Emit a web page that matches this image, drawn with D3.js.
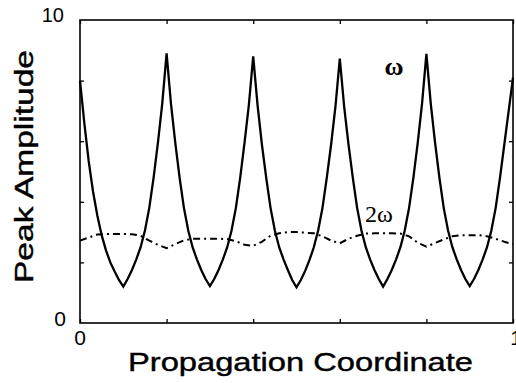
<!DOCTYPE html>
<html>
<head>
<meta charset="utf-8">
<title></title>
<style>
body { margin: 0; background: #fff; }
svg { display: block; }
.frame { fill: none; stroke: #000; stroke-width: 1.6px; }
.tick line { stroke: #000; stroke-width: 1.3px; }
path.omega { fill: none; stroke: #000; stroke-width: 2.3px; stroke-linejoin: miter; }
path.omega2 { fill: none; stroke: #000; stroke-width: 2px; stroke-dasharray: 7,4,2,4; }
text.tl { font-family: "Liberation Sans", Arial, sans-serif; font-size: 21px; fill: #000; }
text.title { font-family: "Liberation Sans", Arial, sans-serif; font-size: 25px; fill: #000; stroke: #000; stroke-width: 0.4px; }
text.lab { font-family: "Liberation Serif", "Times New Roman", serif; fill: #000; }
</style>
</head>
<body>
<script src="https://cdn.jsdelivr.net/npm/d3@7"></script>
<script>

// propagation coordinate grid for the omega curve (step 0.01)
var coordOmega = d3.range(0, 101).map(function(i) { return i / 100; });
var peakOmega = [
  8.0, 6.6, 5.35, 4.35, 3.55, 2.9, 2.4, 2.0, 1.7, 1.42,
  1.2, 1.45, 1.75, 2.1, 2.5, 3.05, 3.8, 4.8, 5.95, 7.25,
  8.9, 7.25, 5.95, 4.8, 3.8, 3.05, 2.5, 2.1, 1.75, 1.45,
  1.22, 1.45, 1.75, 2.1, 2.5, 3.05, 3.8, 4.8, 5.95, 7.2,
  8.8, 7.2, 5.9, 4.8, 3.8, 3.05, 2.5, 2.1, 1.75, 1.42,
  1.18, 1.42, 1.72, 2.08, 2.5, 3.05, 3.8, 4.8, 5.9, 7.15,
  8.73, 7.15, 5.9, 4.8, 3.8, 3.05, 2.5, 2.1, 1.75, 1.45,
  1.2, 1.45, 1.75, 2.1, 2.5, 3.05, 3.8, 4.8, 5.95, 7.25,
  8.88, 7.25, 5.95, 4.8, 3.8, 3.05, 2.5, 2.1, 1.75, 1.45,
  1.22, 1.45, 1.75, 2.1, 2.5, 3.05, 3.8, 4.8, 5.9, 7.0,
  8.1
];

// second harmonic (step 0.02)
var coord2Omega = d3.range(0, 51).map(function(i) { return i / 50; });
var peak2Omega = [
  2.72, 2.82, 2.92, 2.94, 2.94, 2.94, 2.93, 2.88, 2.72, 2.58,
  2.47, 2.6, 2.73, 2.78, 2.78, 2.78, 2.78, 2.77, 2.7, 2.58,
  2.55, 2.68, 2.88, 2.96, 3.0, 3.0, 2.98, 2.96, 2.86, 2.72,
  2.63, 2.78, 2.88, 2.95, 2.96, 2.96, 2.96, 2.95, 2.86, 2.65,
  2.52, 2.64, 2.76, 2.86, 2.9, 2.9, 2.9, 2.86, 2.78, 2.68,
  2.6
];

var xTicks = [0, 0.2, 0.4, 0.6, 0.8, 1];
var yTicks = [2, 4, 6, 8];

var width = 516, height = 383;
var plotL = 80, plotR = 513, plotT = 20, plotB = 323;

var svg = d3.select("body").append("svg")
    .attr("width", width)
    .attr("height", height);

var x = d3.scaleLinear().domain([0, 1]).range([plotL, plotR]);
var y = d3.scaleLinear().domain([0, 10]).range([plotB, plotT]);

// inward ticks on all four sides
function ticks(axis, tx, ty) {
  var g = svg.append("g").attr("transform", "translate(" + tx + "," + ty + ")").call(axis);
  g.select(".domain").remove();
}
ticks(d3.axisBottom(x).tickValues(xTicks).tickSize(-4).tickFormat(""), 0, plotB);
ticks(d3.axisTop(x).tickValues(xTicks).tickSize(-4).tickFormat(""), 0, plotT);
ticks(d3.axisLeft(y).tickValues(yTicks).tickSize(-4).tickFormat(""), plotL, 0);
ticks(d3.axisRight(y).tickValues(yTicks).tickSize(-4).tickFormat(""), plotR, 0);

svg.append("rect").attr("class", "frame")
    .attr("x", plotL).attr("y", plotT)
    .attr("width", plotR - plotL).attr("height", plotB - plotT);

var line = d3.line()
    .x(function(d) { return x(d[0]); })
    .y(function(d) { return y(d[1]); });

svg.append("path").attr("class", "omega2")
    .attr("d", line(d3.zip(coord2Omega, peak2Omega)));

svg.append("path").attr("class", "omega")
    .attr("d", line(d3.zip(coordOmega, peakOmega)));

// tick labels
svg.append("text").attr("class", "tl").attr("text-anchor", "end")
    .attr("x", plotL - 16).attr("y", y(10) + 2).style("font-size", "20px").text("10");
svg.append("text").attr("class", "tl").attr("text-anchor", "end")
    .attr("x", plotL - 14).attr("y", y(0) + 3).text("0");
svg.append("text").attr("class", "tl").attr("text-anchor", "middle")
    .attr("x", x(0)).attr("y", plotB + 22).text("0");
svg.append("text").attr("class", "tl").attr("text-anchor", "middle")
    .attr("x", x(1) + 3).attr("y", plotB + 22).text("1");

// axis titles
svg.append("text").attr("class", "title")
    .attr("x", 128).attr("y", 371)
    .attr("textLength", 345).attr("lengthAdjust", "spacingAndGlyphs")
    .text("Propagation Coordinate");
svg.append("text").attr("class", "title")
    .attr("transform", "translate(33,283) rotate(-90)")
    .attr("textLength", 233).attr("lengthAdjust", "spacingAndGlyphs")
    .text("Peak Amplitude");

// curve labels
svg.append("text").attr("class", "lab").attr("text-anchor", "middle")
    .attr("x", 394).attr("y", 75).style("font-size", "26px").style("font-weight", "bold")
    .text("ω");
svg.append("text").attr("class", "lab").attr("text-anchor", "middle")
    .attr("x", 379).attr("y", 222).style("font-size", "24px")
    .text("2ω");

</script>
</body>
</html>
